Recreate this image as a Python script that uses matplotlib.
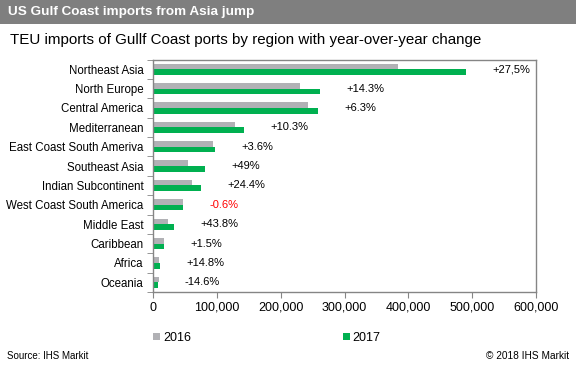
import matplotlib
matplotlib.use("Agg")
import matplotlib.pyplot as plt
from matplotlib.patches import Rectangle
from matplotlib.ticker import FuncFormatter, FixedLocator


regions = ["Northeast Asia", "North Europe", "Central America", "Mediterranean",
           "East Coast South Ameriva", "Southeast Asia", "Indian Subcontinent",
           "West Coast South America", "Middle East", "Caribbean", "Africa", "Oceania"]
teu_2016 = [384000, 229500, 243500, 128000, 93500, 54000, 60500, 46500, 23000, 17000, 9000, 9000]
teu_2017 = [490000, 262000, 259000, 142000, 96500, 81000, 74500, 46000, 32500, 17000, 10500, 7500]
changes = ["+27,5%", "+14.3%", "+6.3%", "+10.3%", "+3.6%", "+49%", "+24.4%",
           "-0.6%", "+43.8%", "+1.5%", "+14.8%", "-14.6%"]
xticks = [0, 100000, 200000, 300000, 400000, 500000, 600000]

GRAY = "#b1b1b5"
GREEN = "#00b050"
FRAME = "#858585"

plt.rcParams["font.family"] = ["Liberation Sans", "DejaVu Sans"]

fig = plt.figure(figsize=(5.76, 3.68), dpi=100)
ax = fig.add_axes([153.3 / 576, 1 - 292 / 368, (535.7 - 153.3) / 576, (292 - 59.5) / 368])

# title bar
fig.patches.append(Rectangle((0, 1 - 24 / 368), 1, 24 / 368, transform=fig.transFigure,
                             facecolor="#7f7f7f", edgecolor="none", zorder=0))
fig.text(8 / 576, 1 - 12 / 368, "US Gulf Coast imports from Asia jump", color="white",
         fontsize=9.7, fontweight="bold", va="center", ha="left")
fig.text(10 / 576, 1 - 40 / 368,
         "TEU imports of Gullf Coast ports by region with year-over-year change",
         fontsize=10.9, va="center", ha="left")

pos = list(range(len(regions)))
h = 0.29
b16 = ax.barh([p - h / 2 for p in pos], teu_2016, height=h, color=GRAY, label="2016")
b17 = ax.barh([p + h / 2 for p in pos], teu_2017, height=h, color=GREEN, label="2017")

for i, (v, txt) in enumerate(zip(teu_2017, changes)):
    col = "red" if txt.startswith("-0") else "black"
    ax.annotate(txt, (v, i), xytext=(19, 0), textcoords="offset points",
                ha="left", va="center", fontsize=8, color=col)

ax.set_xlim(0, 600000)
ax.set_ylim(len(regions) - 0.5, -0.5)
ax.set_xticks(xticks)
ax.xaxis.set_major_formatter(FuncFormatter(lambda x, p: f"{int(x):,}"))
ax.set_yticks(pos)
ax.set_yticklabels(regions)
ax.yaxis.set_minor_locator(FixedLocator([p + 0.5 for p in range(-1, len(regions))]))
ax.tick_params(axis="y", which="major", length=0, pad=7, labelsize=8.3)
ax.tick_params(axis="y", which="minor", length=4, color=FRAME, direction="out")
ax.tick_params(axis="x", which="major", length=4, color=FRAME, labelsize=9, pad=3)
for s in ax.spines.values():
    s.set_color(FRAME)
    s.set_linewidth(1)

fig.legend(handles=[b16, b17], loc="center", bbox_to_anchor=(267 / 576, 1 - 338 / 368),
           ncol=2, frameon=False, fontsize=9, handlelength=0.55, handleheight=0.55,
           handletextpad=0.25, columnspacing=12.1)

fig.text(7 / 576, 1 - 356 / 368, "Source: IHS Markit", fontsize=7, va="center", ha="left")
fig.text(569 / 576, 1 - 356 / 368, "\u00a9 2018 IHS Markit", fontsize=7.3, va="center", ha="right")

fig.savefig("out.png", dpi=100)
